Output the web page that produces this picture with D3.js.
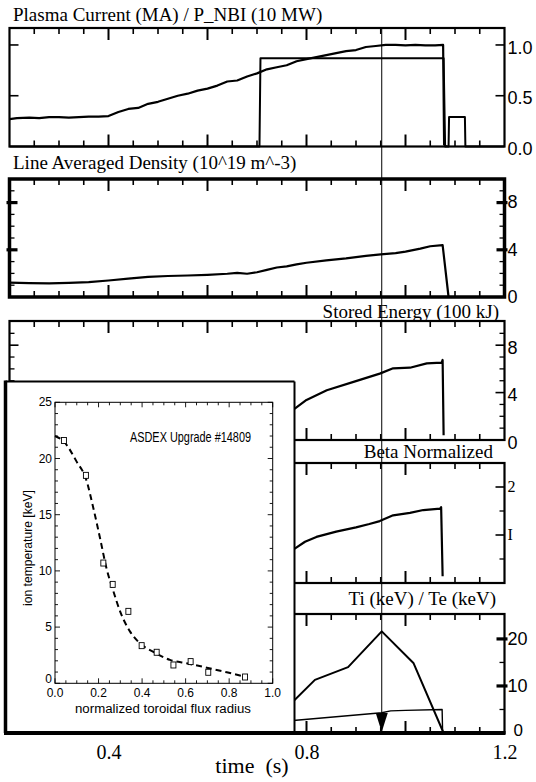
<!DOCTYPE html>
<html><head><meta charset="utf-8">
<script src="https://cdn.jsdelivr.net/npm/d3@7"></script>
<style>body{margin:0;background:#fff}svg{display:block}</style>
</head><body>
<svg id="c" width="536" height="782"></svg>
<script>
// ---------------- DATA ----------------
const timeMajorTicks = [0.4, 0.6, 0.8, 1.0];
const timeMinorTicks = [0.25,0.3,0.35,0.45,0.5,0.55,0.65,0.7,0.75,0.85,0.9,0.95,1.05,1.1,1.15];
const timeTickValues = [0.4, 0.8, 1.2];
const timeTickLabels = ["0.4", "0.8", "1.2"];

const ipTime  = [0.200,0.215,0.24,0.26,0.28,0.30,0.32,0.34,0.36,0.38,0.40,0.42,0.44,0.46,0.48,0.50,0.52,0.54,0.56,0.58,0.60,0.62,0.64,0.66,0.68,0.70,0.72,0.74,0.76,0.78,0.80,0.82,0.84,0.86,0.88,0.90,0.92,0.94,0.96,0.98,1.00,1.02,1.04,1.06,1.076,1.078,1.082];
const ipValue = [0.27,0.28,0.285,0.28,0.29,0.29,0.285,0.29,0.295,0.295,0.30,0.34,0.37,0.38,0.42,0.44,0.47,0.50,0.52,0.55,0.57,0.60,0.64,0.65,0.69,0.72,0.76,0.78,0.80,0.84,0.86,0.88,0.90,0.92,0.94,0.95,0.98,0.99,1.00,1.00,0.995,1.00,0.995,0.995,1.00,0.02,0.0];

const nbiTime  = [0.20,0.705,0.707,1.077,1.08,1.087,1.088,1.12,1.121,1.20];
const nbiValue = [0.00,0.00,0.87,0.87,0.00,0.00,0.29,0.29,0.00,0.00];

const densTime  = [0.20,0.24,0.28,0.32,0.36,0.40,0.44,0.48,0.52,0.56,0.60,0.64,0.66,0.68,0.70,0.72,0.74,0.76,0.78,0.80,0.84,0.88,0.92,0.95,0.98,1.00,1.03,1.05,1.075,1.087,1.20];
const densValue = [1.22,1.18,1.16,1.20,1.26,1.40,1.55,1.70,1.78,1.82,1.88,1.97,2.05,1.97,2.10,2.30,2.50,2.60,2.76,2.90,3.10,3.27,3.48,3.62,3.72,3.85,4.10,4.30,4.40,0.00,0.00];

const wTime  = [0.20,0.30,0.40,0.50,0.60,0.70,0.76,0.777,0.80,0.841,0.895,0.948,0.975,1.009,1.043,1.073,1.075,1.077];
const wValue = [0.30,0.40,0.60,1.10,1.60,2.10,2.45,2.67,3.38,4.20,4.90,5.60,6.05,6.10,6.47,6.52,6.75,0.40];

const betaTime  = [0.20,0.50,0.70,0.76,0.777,0.797,0.82,0.86,0.90,0.927,0.948,0.975,1.009,1.036,1.07,1.072,1.075];
const betaValue = [0.10,0.30,0.55,0.68,0.72,0.86,0.96,1.07,1.16,1.23,1.29,1.41,1.46,1.52,1.55,1.58,0.14];

const tiTime  = [0.75,0.817,0.884,0.952,1.016,1.077];
const tiValue = [4.3,11.3,14.0,21.6,14.9,0.0];
const teTime  = [0.75,0.952,0.97,1.00,1.074,1.075];
const teValue = [2.45,4.3,4.7,4.8,5.0,0.0];

const cursorTime = 0.952;

// inset: ion temperature profile
const rhoPoints = [0.041,0.142,0.222,0.265,0.337,0.398,0.467,0.544,0.623,0.704,0.873];
const tiPoints  = [21.6,18.5,10.7,8.8,6.4,3.35,2.76,1.63,1.93,0.98,0.56];
const rhoFit = [0.0,0.041,0.10,0.142,0.176,0.207,0.237,0.268,0.299,0.345,0.39,0.452,0.528,0.605,0.697,0.789,0.873];
const tiFit  = [22.0,21.5,19.7,18.2,15.6,12.9,10.2,8.2,6.4,4.6,3.56,2.8,2.08,1.78,1.39,0.98,0.59];
const insetXTicks = [0,0.2,0.4,0.6,0.8,1.0];
const insetXLabels = ["0.0","0.2","0.4","0.6","0.8","1.0"];
const insetYTicks = [0,5,10,15,20,25];

// ---------------- LAYOUT ----------------
const svg = d3.select("#c");
svg.append("rect").attr("width",536).attr("height",782).attr("fill","#fff");
const SERIF = "'Liberation Serif','Times New Roman',serif";
const SANS = "'Liberation Sans',Arial,sans-serif";

const x = d3.scaleLinear().domain([0.2,1.2]).range([9.5,504.5]);

const panels = [
  {top:28,  bottom:146.5, max:1.167, bw:2.2, title:"Plasma Current (MA) / P_NBI (10 MW)", tAnchor:"start", tx:13, ty:21,
   major:[0.5,1.0], minor:[], labels:[[0,"0.0"],[0.5,"0.5"],[1.0,"1.0"]], lfont:SANS, lsize:18, ldy:4, thickMajor:false, leftTicks:true},
  {top:179, bottom:297, max:10, bw:3.5, title:"Line Averaged Density (10^19 m^-3)", tAnchor:"start", tx:13, ty:169,
   major:[4,8], minor:[1,2,3,5,6,7,9], labels:[[0,"0"],[4,"4"],[8,"8"]], lfont:SANS, lsize:18, ldy:1, thickMajor:true, leftTicks:true},
  {top:321, bottom:440, max:10.04, bw:2.2, title:"Stored Energy (100 kJ)", tAnchor:"end", tx:499, ty:318,
   major:[4,8], minor:[1,2,3,5,6,7,9], labels:[[0,"0"],[4,"4"],[8,"8"]], lfont:SANS, lsize:18, ldy:4, thickMajor:false, leftTicks:true},
  {top:463, bottom:583, max:2.5, bw:2.2, title:"Beta Normalized", tAnchor:"end", tx:493, ty:458,
   major:[1,2], minor:[0.5,1.5], labels:[[1,"I"],[2,"2"]], lfont:SERIF, lsize:16, ldy:1, thickMajor:false, leftTicks:false},
  {top:614, bottom:733, max:25.3, bw:2.2, title:"Ti (keV) / Te (keV)", tAnchor:"end", tx:496, ty:605,
   major:[10,20], minor:[5,15], labels:[[10,"10"],[20,"20"]], lfont:SANS, lsize:18, ldy:1, thickMajor:true, leftTicks:false}
];
panels.forEach(p => { p.y = d3.scaleLinear().domain([0,p.max]).range([p.bottom,p.top]); });

const X0 = x.range()[0], X1 = x.range()[1];

panels.forEach((p,i) => {
  const g = svg.append("g");
  g.append("text").attr("x",p.tx).attr("y",p.ty).attr("text-anchor",p.tAnchor)
    .attr("font-family",SERIF).attr("font-size",19).text(p.title);
  [[p.top,1],[p.bottom,-1]].forEach(([ye,dir]) => {
    timeMajorTicks.forEach(t => g.append("line").attr("x1",x(t)).attr("x2",x(t))
      .attr("y1",ye).attr("y2",ye+dir*12).attr("stroke","#000").attr("stroke-width",2));
    timeMinorTicks.forEach(t => g.append("line").attr("x1",x(t)).attr("x2",x(t))
      .attr("y1",ye).attr("y2",ye+dir*6).attr("stroke","#000").attr("stroke-width",1.6));
  });
  const sides = p.leftTicks ? [[X0,1],[X1,-1]] : [[X1,-1]];
  sides.forEach(([xe,dir]) => {
    p.major.forEach(v => {
      if (p.thickMajor) {
        g.append("line").attr("x1",xe-dir*3).attr("x2",xe+dir*8).attr("y1",p.y(v)).attr("y2",p.y(v))
          .attr("stroke","#000").attr("stroke-width",3.2);
      } else {
        g.append("line").attr("x1",xe).attr("x2",xe+dir*9).attr("y1",p.y(v)).attr("y2",p.y(v))
          .attr("stroke","#000").attr("stroke-width",1.6);
      }
    });
    p.minor.forEach(v => g.append("line").attr("x1",xe).attr("x2",xe+dir*5).attr("y1",p.y(v)).attr("y2",p.y(v))
      .attr("stroke","#000").attr("stroke-width",1.3));
  });
  p.labels.forEach(([v,s]) => g.append("text").attr("x",X1+3).attr("y",p.y(v)+p.ldy)
    .attr("dominant-baseline","middle").attr("font-family",p.lfont).attr("font-size",p.lsize).text(s));
  g.append("rect").attr("x",X0).attr("y",p.top).attr("width",X1-X0).attr("height",p.bottom-p.top)
    .attr("fill","none").attr("stroke","#000").attr("stroke-width",p.bw);
});

svg.append("text").attr("x",X1+9).attr("y",panels[4].y(0)-1).attr("dominant-baseline","middle")
  .attr("font-family",SANS).attr("font-size",17).text("0");

function trace(p, tArr, vArr, w) {
  const line = d3.line().x(d => x(d[0])).y(d => p.y(d[1]));
  svg.append("path").attr("d", line(tArr.map((t,i)=>[t,vArr[i]])))
    .attr("fill","none").attr("stroke","#000").attr("stroke-width",w).attr("stroke-linejoin","round");
}
trace(panels[0], nbiTime, nbiValue, 2);
trace(panels[0], ipTime, ipValue, 2.2);
trace(panels[1], densTime, densValue, 2.2);
trace(panels[2], wTime, wValue, 2.2);
trace(panels[3], betaTime, betaValue, 2.2);
trace(panels[4], tiTime, tiValue, 2);
trace(panels[4], teTime, teValue, 1.4);

svg.append("line").attr("x1",x(cursorTime)).attr("x2",x(cursorTime))
  .attr("y1",panels[0].top).attr("y2",panels[4].bottom).attr("stroke","#000").attr("stroke-width",1);
{
  const cx = x(cursorTime), yb = panels[4].y(0) - 1;
  svg.append("path").attr("d",`M${cx-6},${yb-19}L${cx+6},${yb-19}L${cx},${yb}Z`).attr("fill","#000");
}

const axisG = svg.append("g").attr("transform",`translate(0,${panels[4].bottom})`);
axisG.call(d3.axisBottom(x).tickValues(timeTickValues).tickFormat((d,i)=>timeTickLabels[i]).tickSize(0).tickPadding(12));
axisG.select(".domain").remove();
axisG.selectAll("text").attr("font-family",SERIF).attr("font-size",20).attr("fill","#000");
svg.append("text").attr("x",252).attr("y",773).attr("text-anchor","middle")
  .attr("font-family",SERIF).attr("font-size",22).attr("xml:space","preserve").text("time  (s)");

// ---------------- INSET ----------------
const inset = svg.append("g");
const IB = {left:5.5, top:381.5, right:294.5, bottom:733};
inset.append("rect").attr("x",IB.left).attr("y",IB.top).attr("width",IB.right-IB.left).attr("height",IB.bottom-IB.top)
  .attr("fill","#fff").attr("stroke","none");
inset.append("line").attr("x1",IB.left).attr("x2",IB.right).attr("y1",IB.top).attr("y2",IB.top).attr("stroke","#000").attr("stroke-width",2);
inset.append("line").attr("x1",IB.right).attr("x2",IB.right).attr("y1",IB.top).attr("y2",IB.bottom).attr("stroke","#000").attr("stroke-width",2);
inset.append("line").attr("x1",IB.left).attr("x2",IB.left).attr("y1",IB.top-1).attr("y2",IB.bottom).attr("stroke","#000").attr("stroke-width",3.5);
svg.append("line").attr("x1",IB.left-1.5).attr("x2",X1+1).attr("y1",panels[4].bottom).attr("y2",panels[4].bottom)
  .attr("stroke","#000").attr("stroke-width",4);

const ix = d3.scaleLinear().domain([0,1]).range([55,272.7]);
const iy = d3.scaleLinear().domain([0,25]).range([683.3,402.3]);
inset.append("rect").attr("x",ix(0)).attr("y",iy(25)).attr("width",ix(1)-ix(0)).attr("height",iy(0)-iy(25))
  .attr("fill","none").attr("stroke","#000").attr("stroke-width",1);
d3.range(0,1.0001,0.05).forEach(v => {
  const L = (Math.round(v*100)%20===0) ? 5 : 3;
  inset.append("line").attr("x1",ix(v)).attr("x2",ix(v)).attr("y1",iy(0)).attr("y2",iy(0)-L).attr("stroke","#000").attr("stroke-width",0.9);
  inset.append("line").attr("x1",ix(v)).attr("x2",ix(v)).attr("y1",iy(25)).attr("y2",iy(25)+L).attr("stroke","#000").attr("stroke-width",0.9);
});
d3.range(0,25.001,1).forEach(v => {
  const L = (v%5===0) ? 5 : 3;
  inset.append("line").attr("x1",ix(0)).attr("x2",ix(0)+L).attr("y1",iy(v)).attr("y2",iy(v)).attr("stroke","#000").attr("stroke-width",0.9);
  inset.append("line").attr("x1",ix(1)).attr("x2",ix(1)-L).attr("y1",iy(v)).attr("y2",iy(v)).attr("stroke","#000").attr("stroke-width",0.9);
});
insetXTicks.forEach((v,i) => inset.append("text").attr("x",ix(v)).attr("y",697).attr("text-anchor","middle")
  .attr("font-family",SANS).attr("font-size",12).text(insetXLabels[i]));
insetYTicks.forEach(v => inset.append("text").attr("x",ix(0)-3).attr("y",v===0 ? 683 : iy(v)+4).attr("text-anchor","end")
  .attr("font-family",SANS).attr("font-size",12).text(String(v)));
inset.append("text").attr("x",163).attr("y",713).attr("text-anchor","middle")
  .attr("font-family",SANS).attr("font-size",12.5).attr("textLength",176).attr("lengthAdjust","spacingAndGlyphs")
  .text("normalized toroidal flux radius");
inset.append("text").attr("transform",`translate(32,548) rotate(-90)`).attr("text-anchor","middle")
  .attr("font-family",SANS).attr("font-size",13).attr("textLength",116).attr("lengthAdjust","spacingAndGlyphs")
  .text("ion temperature [keV]");
inset.append("text").attr("x",130).attr("y",441.5)
  .attr("font-family",SANS).attr("font-size",14).attr("textLength",121).attr("lengthAdjust","spacingAndGlyphs")
  .text("ASDEX Upgrade #14809");
const fitLine = d3.line().curve(d3.curveMonotoneX).x(d=>ix(d[0])).y(d=>iy(d[1]));
inset.append("path").attr("d",fitLine(rhoFit.map((r,i)=>[r,tiFit[i]])))
  .attr("fill","none").attr("stroke","#000").attr("stroke-width",2).attr("stroke-dasharray","6,4");
rhoPoints.forEach((r,i) => inset.append("rect").attr("x",ix(r)-2.5).attr("y",iy(tiPoints[i])-3).attr("width",5).attr("height",6)
  .attr("fill","#fff").attr("stroke","#000").attr("stroke-width",0.9));
</script>
</body></html>
